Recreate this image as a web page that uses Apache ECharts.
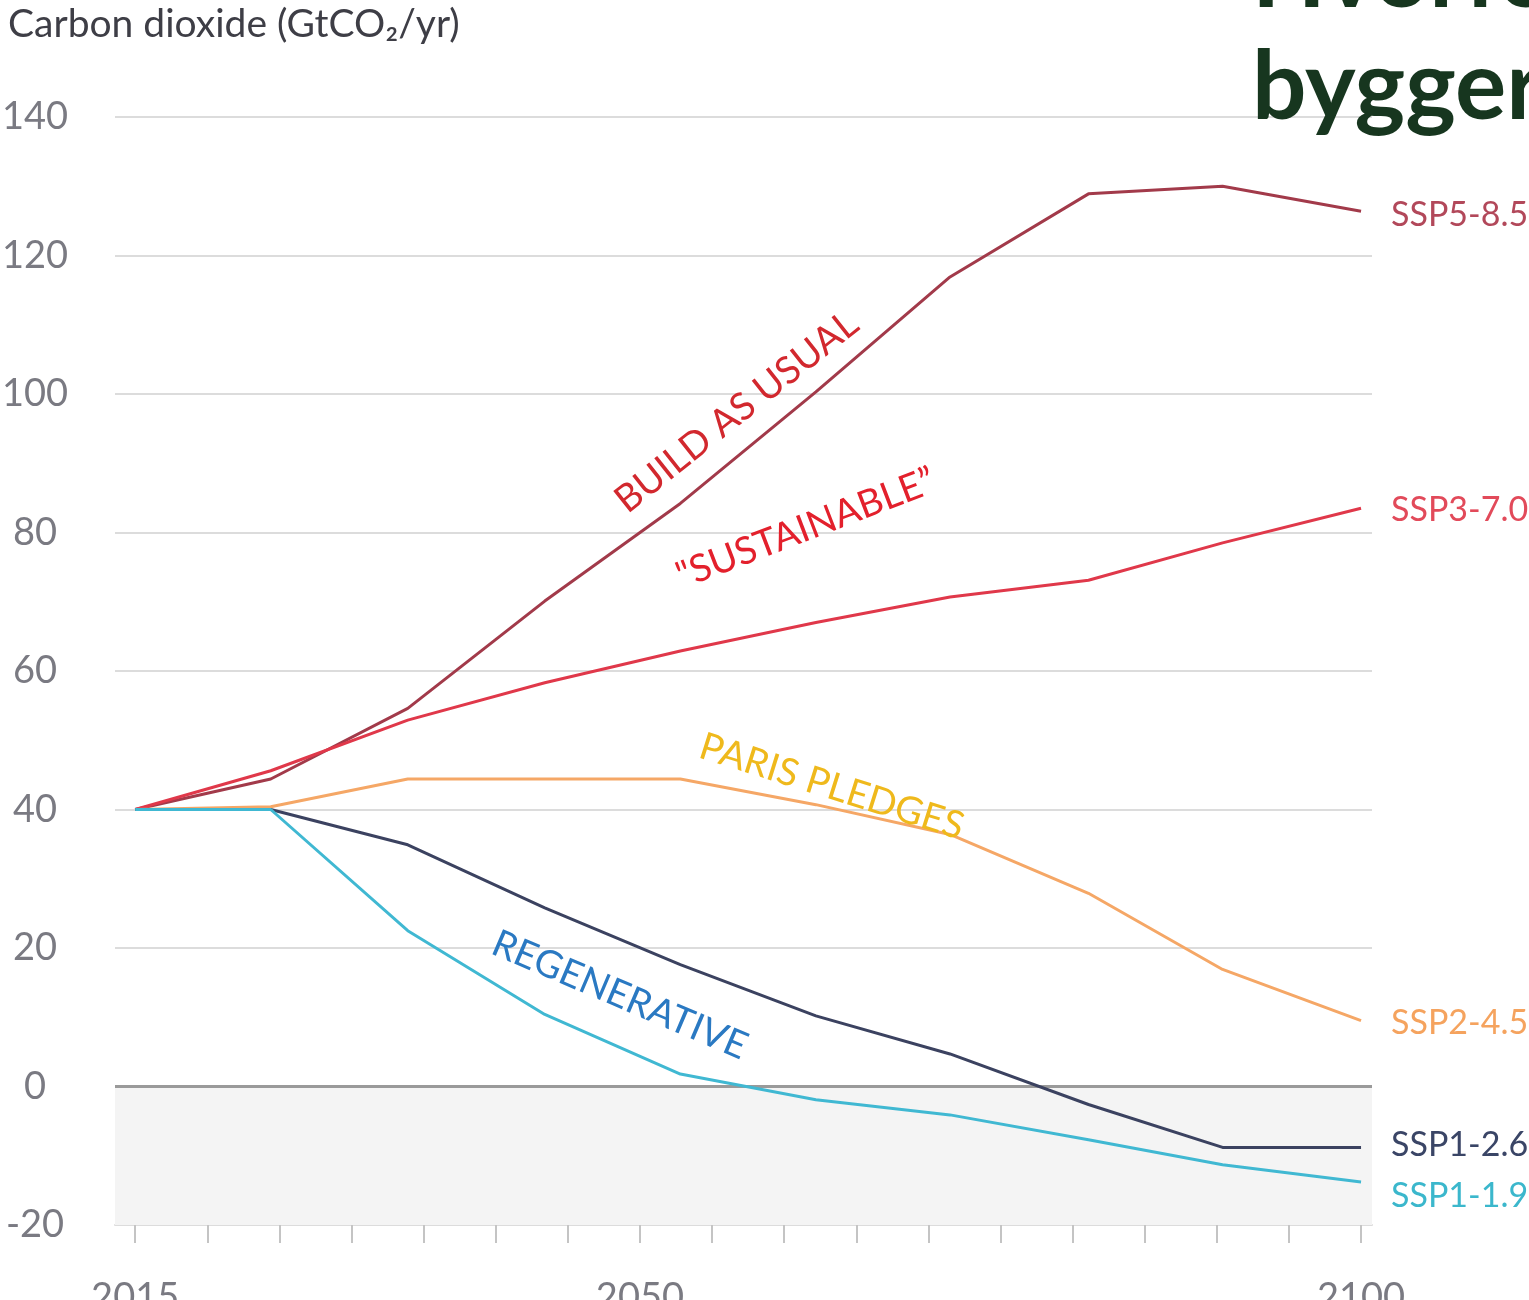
<!DOCTYPE html>
<html>
<head>
<meta charset="utf-8">
<script src="https://cdn.jsdelivr.net/npm/echarts@6/dist/echarts.min.js"></script>
<style>
html,body{margin:0;padding:0;background:#fff;}
#chart{width:1529px;height:1300px;}
</style>
</head>
<body>
<div id="chart"></div>
<script>
// ---- data ----
const years   = [2015, 2024.4, 2033.9, 2043.4, 2052.8, 2062.2, 2071.5, 2081.1, 2090.4, 2100];
const ssp585  = [40, 44.4, 54.6, 70.1, 84.2, 100.3, 116.9, 128.9, 130.0, 126.4];
const ssp370  = [40, 45.6, 52.9, 58.3, 62.9, 67.0, 70.7, 73.1, 78.5, 83.5];
const ssp245  = [40, 40.4, 44.4, 44.4, 44.4, 40.7, 36.4, 27.9, 16.9, 9.5];
const ssp126  = [40, 40.0, 34.9, 25.8, 17.6, 10.2, 4.7, -2.6, -8.8, -8.8];
const ssp119  = [40, 40.0, 22.5, 10.4, 1.8, -1.9, -4.1, -7.7, -11.3, -13.8];
const seriesNames = ['SSP5-8.5', 'SSP3-7.0', 'SSP2-4.5', 'SSP1-2.6', 'SSP1-1.9'];
const xTickValues  = [2015,2020,2025,2030,2035,2040,2045,2050,2055,2060,2065,2070,2075,2080,2085,2090,2095,2100];
const xLabelValues = [2015, 2050, 2100];
const annotations = [
  {text: 'BUILD AS USUAL', year: 2056.7, value: 97.4, angle: 38.5, color: '#d2282e'},
  {text: '"SUSTAINABLE\u201d', year: 2061.5, value: 80.6, angle: 21, color: '#e3202c'},
  {text: 'PARIS PLEDGES', year: 2063.3, value: 43.3, angle: -17.5, color: '#efb91c'},
  {text: 'REGENERATIVE', year: 2048.6, value: 13.2, angle: -23, color: '#2a79c2'}
];

const lineColors  = ['#a23a4a', '#e0384a', '#f5a766', '#3b4260', '#40b8d2'];
const labelColors = ['#b2485a', '#e24a5a', '#f5a35e', '#3a4566', '#3bb7cc'];
const labelOffsets = [[0,4],[0,2],[0,2],[0,-2],[0,14]];
const allData = [ssp585, ssp370, ssp245, ssp126, ssp119];

const chart = echarts.init(document.getElementById('chart'));
const FONT = 'Lato, "Open Sans", sans-serif';

const series = allData.map((vals, i) => ({
  name: seriesNames[i],
  type: 'line',
  data: years.map((y, k) => [y, vals[k]]),
  showSymbol: false,
  symbol: 'none',
  lineStyle: {color: lineColors[i], width: 3},
  z: 5 + i,
  endLabel: {
    show: true,
    formatter: seriesNames[i],
    color: labelColors[i],
    fontFamily: FONT,
    fontSize: 34,
    distance: 30,
    offset: labelOffsets[i]
  }
}));

// shaded negative region and zero line
series.push({
  type: 'line',
  data: [],
  markArea: {
    silent: true,
    itemStyle: {color: '#f4f4f4'},
    data: [[{yAxis: -20}, {yAxis: 0}]]
  },
  markLine: {
    silent: true,
    symbol: 'none',
    label: {show: false},
    lineStyle: {color: '#9a9a9a', width: 3, type: 'solid'},
    data: [{yAxis: 0}]
  },
  z: 1
});

chart.setOption({
  animation: false,
  backgroundColor: '#fff',
  title: {
    text: 'Carbon dioxide (GtCO\u2082/yr)',
    left: 3, top: 0,
    textStyle: {fontFamily: FONT, fontSize: 39, fontWeight: 'normal', color: '#3e3e46'}
  },
  grid: {left: 115, right: 157, top: 117, bottom: 75, containLabel: false, outerBoundsMode: 'none'},
  xAxis: {
    type: 'value',
    min: 2013.6, max: 2100.76,
    splitLine: {show: false},
    axisLine: {show: true, onZero: false, lineStyle: {color: '#dcdcdc', width: 2}},
    axisTick: {show: true, customValues: xTickValues, length: 18, lineStyle: {color: '#c4c4c4', width: 2}},
    axisLabel: {show: true, customValues: xLabelValues, margin: 54, fontFamily: FONT, fontSize: 38, color: '#7a7a82',
      formatter: v => String(Math.round(v))}
  },
  yAxis: {
    type: 'value',
    min: -20, max: 140, interval: 20,
    axisLine: {show: false},
    axisTick: {show: false},
    splitLine: {show: true, lineStyle: {color: '#dcdcdc', width: 2}},
    axisLabel: {margin: 80, align: 'center', fontFamily: FONT, fontSize: 38, color: '#7a7a82'}
  },
  series: series
});

// annotations positioned in data coordinates
const graphics = annotations.map(a => {
  const p = chart.convertToPixel({gridIndex: 0}, [a.year, a.value]);
  return {
    type: 'text',
    x: p[0], y: p[1],
    rotation: a.angle * Math.PI / 180,
    z: 50,
    style: {
      text: a.text, fill: a.color,
      font: '38px ' + FONT,
      textAlign: 'center', textVerticalAlign: 'middle'
    }
  };
});
graphics.push({
  type: 'text', x: 1252, y: -24, z: 60,
  style: {text: 'Hvorfor', fill: '#17361f', font: 'bold 96px ' + FONT, textAlign: 'left', textVerticalAlign: 'middle'}
});
graphics.push({
  type: 'text', x: 1252, y: 88, z: 60,
  style: {text: 'byggeri', fill: '#17361f', font: 'bold 96px ' + FONT, textAlign: 'left', textVerticalAlign: 'middle'}
});
chart.setOption({graphic: graphics});
</script>
</body>
</html>
